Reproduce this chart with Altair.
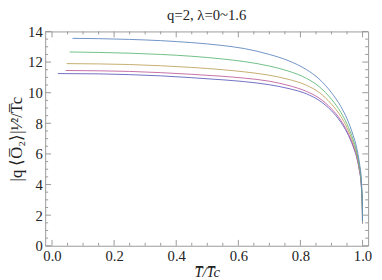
import altair as alt
import pandas as pd

# temperature grid (T/Tc) shared by the curves after their start point
T_grid = [0.15, 0.25, 0.35, 0.45, 0.55, 0.62, 0.70, 0.76, 0.82, 0.86, 0.90, 0.93,
          0.95, 0.97, 0.98, 0.99, 0.995, 0.998, 0.9995, 0.9999]

series_names = ["lambda=0", "lambda=0.4", "lambda=0.8", "lambda=1.2", "lambda=1.6"]
start_T = [0.019, 0.044, 0.047, 0.057, 0.066]

purple = [11.25, 11.23, 11.18, 11.10, 10.98, 10.84, 10.72, 10.52, 10.28, 9.92, 9.50, 8.82, 8.08,
          7.40, 6.47, 5.86, 4.90, 4.18, 3.19, 2.28, 1.45]
red = [11.45, 11.43, 11.39, 11.31, 11.20, 11.07, 10.95, 10.75, 10.48, 10.08, 9.65, 8.95, 8.20,
       7.50, 6.55, 5.93, 4.95, 4.23, 3.22, 2.30, 1.47]
yellow = [11.90, 11.88, 11.84, 11.76, 11.65, 11.50, 11.36, 11.14, 10.88, 10.48, 10.02, 9.25, 8.45,
          7.72, 6.72, 6.08, 5.06, 4.32, 3.28, 2.35, 1.50]
green = [12.66, 12.63, 12.58, 12.50, 12.38, 12.20, 12.03, 11.74, 11.42, 10.93, 10.40, 9.57, 8.72,
         7.95, 6.92, 6.25, 5.20, 4.44, 3.38, 2.42, 1.55]
blue = [13.55, 13.53, 13.48, 13.40, 13.27, 13.08, 12.88, 12.50, 12.10, 11.50, 10.90, 10.00, 9.10,
        8.30, 7.20, 6.50, 5.40, 4.60, 3.50, 2.50, 1.60]

colors = ["#5f5fbf", "#bf5f9c", "#bfa35f", "#5fb876", "#5f86bf"]

x_major = [0.0, 0.2, 0.4, 0.6, 0.8, 1.0]
x_minor = [0.05, 0.1, 0.15, 0.25, 0.3, 0.35, 0.45, 0.5, 0.55, 0.65, 0.7, 0.75, 0.85, 0.9, 0.95]
y_major = [0, 2, 4, 6, 8, 10, 12, 14]
y_minor = [0.5, 1, 1.5, 2.5, 3, 3.5, 4.5, 5, 5.5, 6.5, 7, 7.5, 8.5, 9, 9.5, 10.5, 11, 11.5,
           12.5, 13, 13.5]

rows = []
for name, t0, vals in zip(series_names, start_T, [purple, red, yellow, green, blue]):
    for t, v in zip([t0] + T_grid, vals):
        rows.append({"s": name, "t": t, "v": v})
df = pd.DataFrame(rows)

W, H = 330, 219
FRAME = "#9a9a9a"
FONT = "Liberation Serif"

xs = alt.Scale(domain=[-0.022, 1.018], nice=False, zero=False)
ys = alt.Scale(domain=[0, 14], nice=False, zero=False)

xaxis = alt.Axis(values=x_major, format=".1f", title="T̅/T̅c",
                 titleFontStyle="italic", titleFontWeight="normal",
                 labelPadding=3, titlePadding=1, titleFontSize=15)
yaxis = alt.Axis(values=y_major, format="d", title="|q ⟨O̅₂⟩|¹⁄²/T̅c",
                 titleFontWeight="normal", labelPadding=3, titlePadding=2, titleFontSize=17)

lines = alt.Chart(df).mark_line(strokeWidth=0.9, clip=True, interpolate="monotone").encode(
    x=alt.X("t:Q", scale=xs, axis=xaxis),
    y=alt.Y("v:Q", scale=ys, axis=yaxis),
    color=alt.Color("s:N", scale=alt.Scale(domain=series_names, range=colors), legend=None),
    order="t:Q",
)

def xticks(vals, length):
    d = pd.DataFrame({"v": vals})
    bot = alt.Chart(d).mark_rule(color=FRAME, strokeWidth=1).encode(
        x=alt.X("v:Q", scale=xs, axis=xaxis), y=alt.value(H), y2=alt.value(H - length))
    top = alt.Chart(d).mark_rule(color=FRAME, strokeWidth=1).encode(
        x=alt.X("v:Q", scale=xs, axis=xaxis), y=alt.value(0), y2=alt.value(length))
    return [bot, top]

def yticks(vals, length):
    d = pd.DataFrame({"v": vals})
    left = alt.Chart(d).mark_rule(color=FRAME, strokeWidth=1).encode(
        y=alt.Y("v:Q", scale=ys, axis=yaxis), x=alt.value(0), x2=alt.value(length))
    right = alt.Chart(d).mark_rule(color=FRAME, strokeWidth=1).encode(
        y=alt.Y("v:Q", scale=ys, axis=yaxis), x=alt.value(W), x2=alt.value(W - length))
    return [left, right]

layers = [lines] + xticks(x_major, 6) + xticks(x_minor, 3) + yticks(y_major, 6) + yticks(y_minor, 3)

chart = alt.layer(*layers).properties(
    width=W, height=H,
    padding={"left": 38, "top": 21, "right": 6, "bottom": 32},
    autosize="none",
    title=alt.Title("q=2, λ=0~1.6", font=FONT, fontSize=15, fontWeight="normal",
                    color="#222", anchor="middle", offset=2),
).configure_view(
    stroke=FRAME, strokeWidth=1
).configure_axis(
    ticks=False, domain=False, grid=False,
    labelFont=FONT, labelFontSize=15, labelColor="#222",
    titleFont=FONT, titleColor="#222",
)

chart.save("out.html", embed_options={"renderer": "svg", "actions": False})
